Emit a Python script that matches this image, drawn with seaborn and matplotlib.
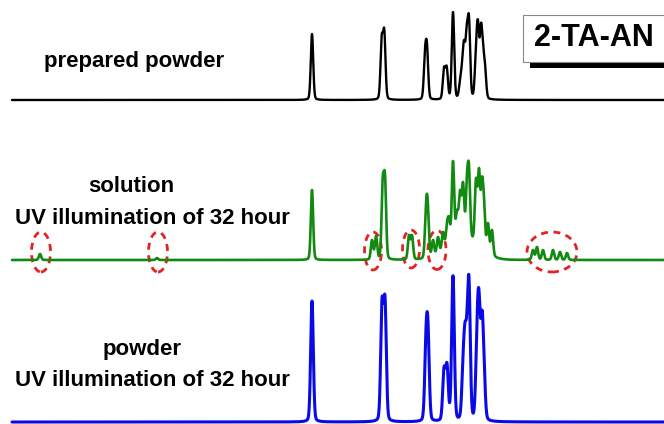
import numpy as np
import pandas as pd
import matplotlib
matplotlib.use("Agg")
import matplotlib.pyplot as plt
from matplotlib.patches import Ellipse, Rectangle
import seaborn as sns

sns.set_theme(style="white")
plt.rcParams['font.family'] = ['Liberation Sans', 'DejaVu Sans']

# ---- data (peak positions / apparent heights) ----
black_pos = [312, 381.7, 384.3, 425, 427, 444, 446.7, 453, 460, 462, 464, 466.7, 469, 476, 478, 481, 483, 485]
black_h   = [66, 65, 71, 52, 57, 33, 34, 88, 20, 38, 60, 75, 84, 58, 80, 77, 57, 37]

green_pos = [40, 157, 312, 372, 376, 382.7, 385, 409, 412, 426, 427.7, 433, 438, 443, 447, 449,
             453, 457, 460, 463, 467, 469, 476, 479, 482, 484, 488, 492,
             533, 537, 543, 553, 560, 567]
green_h   = [6, 2, 70, 20, 24, 83, 86, 25, 25, 58, 60, 20, 23, 28, 38, 43,
             99, 50, 70, 78, 87, 95, 82, 92, 83, 63, 37, 30,
             10, 13, 10, 10, 8, 7]
green_broad_pos = [463]
green_broad_h = [22]
green_broad_w = [15]

blue_pos = [312, 382, 385, 426, 428, 444, 447, 451, 453, 463, 465, 467, 469, 477, 479, 482, 484]
blue_h   = [121, 124, 126, 95, 101, 55, 59, 50, 147, 67, 100, 112, 145, 104, 132, 112, 69]

offsets = {"black": 324, "green": 164, "blue": 2}
labels_top = "prepared powder"
labels_mid = ["solution", "UV illumination of 32 hour"]
labels_bot = ["powder", "UV illumination of 32 hour"]
title_label = "2-TA-AN"

x = np.linspace(12, 664, 6000)

def shape(d, s):
    return 0.85 * np.exp(-0.5 * (d / s) ** 2) + 0.15 / (1 + (d / (1.3 * s)) ** 2)

def solve_amps(A, target, floor):
    amp = np.linalg.lstsq(A, target, rcond=None)[0]
    fixed = np.zeros(len(target), bool)
    for _ in range(30):
        newfix = fixed | (amp < floor)
        if newfix.sum() == fixed.sum() and (amp >= floor - 1e-9).all():
            break
        fixed = newfix
        amp = np.where(fixed, floor, amp)
        free = ~fixed
        if free.any():
            rhs = target - A[:, fixed] @ floor[fixed]
            amp[free] = np.linalg.lstsq(A[:, free], rhs, rcond=None)[0]
    return np.maximum(amp, floor)

def spectrum(pos, h, s, bpos=(), bh=(), bw=()):
    pos = np.asarray(pos, float)
    h = np.asarray(h, float)
    base = np.zeros_like(x)
    base_at = np.zeros_like(pos)
    for p, a, w in zip(bpos, bh, bw):
        base += a * np.exp(-0.5 * ((x - p) / w) ** 2)
        base_at += a * np.exp(-0.5 * ((pos - p) / w) ** 2)
    # amplitudes so that the drawn curve reaches the read heights at the read positions
    A = shape(pos[:, None] - pos[None, :], s)
    amp = solve_amps(A, h - base_at, 0.05 * h)
    y = base.copy()
    for p, a in zip(pos, amp):
        y += a * shape(x - p, s)
    return y

frames = []
for name, y in [("black", spectrum(black_pos, black_h, 1.2)),
                ("green", spectrum(green_pos, green_h, 1.15, green_broad_pos, green_broad_h, green_broad_w)),
                ("blue", spectrum(blue_pos, blue_h, 1.3))]:
    frames.append(pd.DataFrame({"shift": x, "intensity": y + offsets[name], "spec": name}))
df = pd.concat(frames, ignore_index=True)

fig = plt.figure(figsize=(6.64, 4.24), dpi=100)
ax = fig.add_axes([0, 0, 1, 1])
palette = {"black": "#000000", "green": "#128a12", "blue": "#0a0ae8"}
for name, lw in [("black", 1.7), ("green", 1.9), ("blue", 2.2)]:
    sns.lineplot(data=df[df.spec == name], x="shift", y="intensity", color=palette[name],
                 lw=lw, estimator=None, sort=False, ax=ax, legend=False)

ax.set_xlim(0, 664)
ax.set_ylim(0, 424)
ax.axis("off")

# red dashed ellipses (circled new peaks)
ells = [(41, 172, 19, 40), (158, 172, 19, 40), (373, 173, 17, 38), (411, 175, 17, 38),
        (437, 174, 18, 39), (552, 172, 50, 40)]
for cx, cy, w, h in ells:
    ax.add_patch(Ellipse((cx, cy), w, h, fill=False, ec="#e32222", lw=2.0, ls=(0, (2.5, 2))))

fs = 16
kw = dict(ha="center", va="center", fontsize=fs, fontweight="bold", color="black")
ax.text(134, 424 - 62, labels_top, **kw)
ax.text(131, 424 - 186, labels_mid[0], **kw)
ax.text(152, 424 - 218, labels_mid[1], **kw)
ax.text(142, 424 - 350, labels_bot[0], **kw)
ax.text(152, 424 - 381, labels_bot[1], **kw)

# label box with shadow
ax.add_patch(Rectangle((530, 424 - 68), 150, 8, fc="black", ec="none", zorder=3))
ax.add_patch(Rectangle((523, 424 - 62), 150, 47, fc="white", ec="#888888", lw=0.8, zorder=4))
ax.text(594, 424 - 38, title_label, ha="center", va="center", fontsize=22, fontweight="bold",
        color="black", zorder=5)

fig.savefig("out.png", dpi=100)
